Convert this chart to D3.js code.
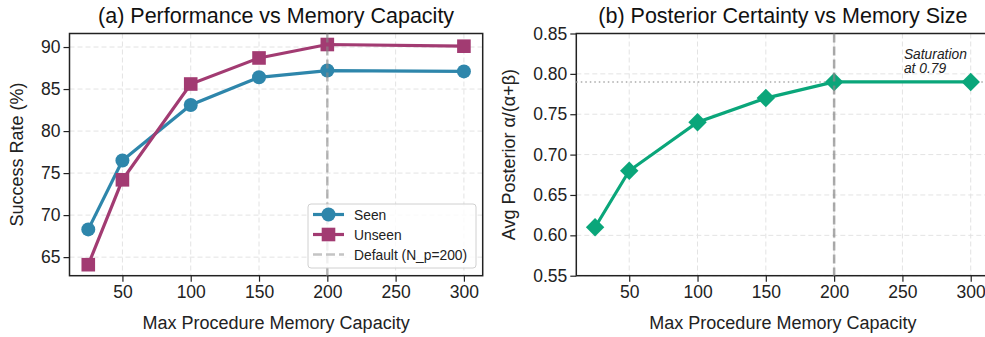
<!DOCTYPE html>
<html>
<head>
<meta charset="utf-8">
<script src="https://cdn.jsdelivr.net/npm/d3@7"></script>
<style>
  body { margin: 0; background: #fff; }
  svg { font-family: "Liberation Sans", Arial, sans-serif; }
</style>
</head>
<body>
<svg id="chart" width="985" height="337"></svg>
<script>
// data
const capacity = [25, 50, 100, 150, 200, 300];
const seen = [68.3, 76.5, 83.1, 86.4, 87.2, 87.1];
const unseen = [64.1, 74.2, 85.6, 88.7, 90.3, 90.1];
const posterior = [0.61, 0.68, 0.74, 0.77, 0.79, 0.79];
const xTicks = [50, 100, 150, 200, 250, 300];
const leftYTicks = [65, 70, 75, 80, 85, 90];
const rightYTicks = [0.55, 0.60, 0.65, 0.70, 0.75, 0.80, 0.85];
const defaultCap = 200;
const saturation = 0.79;

const svg = d3.select("#chart");
const top_ = 33.5, bottom_ = 275.7, panelW = 413.2;
const blue = "#2E86AB", magenta = "#A23B72", green = "#0AA67A";

function makePanel(left, yDomain, yTicks, yFmt, title, ylabel, labelX) {
    const g = svg.append("g");
    const x = d3.scaleLinear().domain([11.25, 313.75]).range([left, left + panelW]);
    const y = d3.scaleLinear().domain(yDomain).range([bottom_, top_]);

    // grid
    g.append("g").selectAll("line").data(xTicks).enter().append("line")
        .attr("x1", d => x(d)).attr("x2", d => x(d))
        .attr("y1", top_).attr("y2", bottom_)
        .attr("stroke", "#e3e3e3").attr("stroke-width", 1).attr("stroke-dasharray", "5,3");
    g.append("g").selectAll("line").data(yTicks).enter().append("line")
        .attr("x1", left).attr("x2", left + panelW)
        .attr("y1", d => y(d)).attr("y2", d => y(d))
        .attr("stroke", "#e3e3e3").attr("stroke-width", 1).attr("stroke-dasharray", "5,3");

    const xAxis = g.append("g").attr("transform", `translate(0,${bottom_})`)
        .call(d3.axisBottom(x).tickValues(xTicks).tickSize(6).tickPadding(4).tickSizeOuter(0));
    const yAxis = g.append("g").attr("transform", `translate(${left},0)`)
        .call(d3.axisLeft(y).tickValues(yTicks).tickFormat(yFmt).tickSize(6).tickPadding(3).tickSizeOuter(0));
    [xAxis, yAxis].forEach(a => {
        a.select(".domain").remove();
        a.selectAll(".tick line").attr("stroke", "#222").attr("stroke-width", 1.2);
        a.selectAll(".tick text").attr("fill", "#222").style("font-size", "17.5px")
            .style("font-family", "'Liberation Sans', Arial, sans-serif");
    });

    g.append("rect").attr("class", "frame")
        .attr("x", left).attr("y", top_).attr("width", panelW).attr("height", bottom_ - top_)
        .attr("fill", "none").attr("stroke", "#222").attr("stroke-width", 1.5);

    g.append("text").attr("x", left + panelW / 2).attr("y", 328.5)
        .attr("text-anchor", "middle").style("font-size", "18px").attr("fill", "#222")
        .text("Max Procedure Memory Capacity");
    g.append("text").attr("x", left + panelW / 2).attr("y", 23)
        .attr("text-anchor", "middle").style("font-size", "21.5px").attr("fill", "#111")
        .text(title);
    g.append("text").attr("transform", `translate(${labelX},${(top_ + bottom_) / 2}) rotate(-90)`)
        .attr("text-anchor", "middle").style("font-size", "18px").attr("fill", "#222")
        .text(ylabel);
    return {g, x, y};
}

// (a)
const a = makePanel(69.5, [62.79, 91.61], leftYTicks, d3.format("d"),
    "(a) Performance vs Memory Capacity", "Success Rate (%)", 22.5);

const line = (sx, sy) => d3.line().x((d, i) => sx(capacity[i])).y(d => sy(d));

a.g.append("path").datum(seen).attr("d", line(a.x, a.y))
    .attr("fill", "none").attr("stroke", blue).attr("stroke-width", 3.2);
a.g.append("g").selectAll("circle").data(seen).enter().append("circle")
    .attr("cx", (d, i) => a.x(capacity[i])).attr("cy", d => a.y(d)).attr("r", 7)
    .attr("fill", blue);

a.g.append("path").datum(unseen).attr("d", line(a.x, a.y))
    .attr("fill", "none").attr("stroke", magenta).attr("stroke-width", 3.2);
a.g.append("g").selectAll("rect").data(unseen).enter().append("rect")
    .attr("x", (d, i) => a.x(capacity[i]) - 6.8).attr("y", d => a.y(d) - 6.8)
    .attr("width", 13.6).attr("height", 13.6).attr("fill", magenta);

a.g.append("line").attr("x1", a.x(defaultCap)).attr("x2", a.x(defaultCap))
    .attr("y1", top_).attr("y2", bottom_)
    .attr("stroke", "#888").attr("stroke-opacity", 0.6).attr("stroke-width", 2.5)
    .attr("stroke-dasharray", "9,4");

// legend
const lg = a.g.append("g").attr("transform", "translate(308,204)");
lg.append("rect").attr("width", 168).attr("height", 64).attr("rx", 3)
    .attr("fill", "#fff").attr("fill-opacity", 0.8).attr("stroke", "#d0d0d0");
const legendItems = [
    {label: "Seen", color: blue, shape: "circle"},
    {label: "Unseen", color: magenta, shape: "square"},
    {label: "Default (N_p=200)", color: "#c4c4c4", shape: "dash"}
];
legendItems.forEach((d, i) => {
    const yy = 10.5 + i * 20;
    const it = lg.append("g").attr("transform", `translate(0,${yy})`);
    it.append("line").attr("x1", 5).attr("x2", 36).attr("y1", 0).attr("y2", 0)
        .attr("stroke", d.color).attr("stroke-width", d.shape === "dash" ? 2.5 : 3.2)
        .attr("stroke-dasharray", d.shape === "dash" ? "9,4" : null);
    if (d.shape === "circle") it.append("circle").attr("cx", 20.5).attr("r", 7).attr("fill", d.color);
    if (d.shape === "square") it.append("rect").attr("x", 13.7).attr("y", -6.8)
        .attr("width", 13.6).attr("height", 13.6).attr("fill", d.color);
    it.append("text").attr("x", 46).attr("y", 5).style("font-size", "13.8px")
        .attr("fill", "#222").text(d.label);
});

// (b)
const b = makePanel(576.3, [0.55, 0.85], rightYTicks, d3.format(".2f"),
    "(b) Posterior Certainty vs Memory Size", "Avg Posterior \u03b1/(\u03b1+\u03b2)", 514.5);

b.g.append("line").attr("x1", 576.3).attr("x2", 576.3 + panelW)
    .attr("y1", b.y(saturation)).attr("y2", b.y(saturation))
    .attr("stroke", "#aaa").attr("stroke-width", 1.5).attr("stroke-dasharray", "1.5,3");

b.g.append("path").datum(posterior).attr("d", line(b.x, b.y))
    .attr("fill", "none").attr("stroke", green).attr("stroke-width", 3.2);
b.g.append("g").selectAll("path.m").data(posterior).enter().append("path")
    .attr("class", "m")
    .attr("d", d3.symbol().type(d3.symbolSquare).size(170))
    .attr("transform", (d, i) => `translate(${b.x(capacity[i])},${b.y(d)}) rotate(45)`)
    .attr("fill", green);

b.g.append("line").attr("x1", b.x(defaultCap)).attr("x2", b.x(defaultCap))
    .attr("y1", top_).attr("y2", bottom_)
    .attr("stroke", "#888").attr("stroke-opacity", 0.7).attr("stroke-width", 2.5)
    .attr("stroke-dasharray", "9,4");

const note = b.g.append("text").attr("x", b.x(250) + 1.5).attr("y", b.y(0.80) - 14.5)
    .style("font-size", "13.8px").style("font-style", "italic").attr("fill", "#222");
note.append("tspan").text("Saturation");
note.append("tspan").attr("x", b.x(250) + 1.5).attr("dy", 14).text("at " + saturation);
</script>
</body>
</html>
